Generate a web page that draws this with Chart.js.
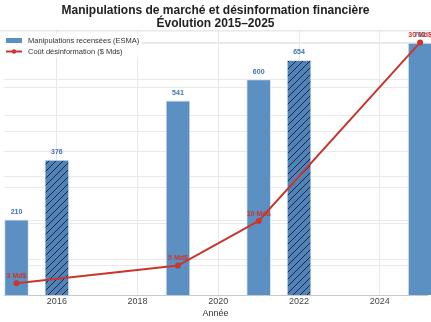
<!DOCTYPE html>
<html>
<head>
<meta charset="utf-8">
<script src="https://cdn.jsdelivr.net/npm/chart.js@4/dist/chart.umd.min.js"></script>
<style>
  html, body { margin: 0; padding: 0; background: #fff; }
  #wrap { width: 431px; height: 322px; }
</style>
</head>
<body>
<div id="wrap"><canvas id="chart" width="431" height="322"></canvas></div>
<script>
// data
const barYears = [2015, 2016, 2019, 2021, 2022, 2025];
const barValues = [210, 376, 541, 600, 654, 702];
const hatched = [false, true, false, false, true, false];
const costYears = [2015, 2019, 2021, 2025];
const costValues = [3, 5, 10, 30];
const xTicks = [2016, 2018, 2020, 2022, 2024];
const leftTicks = [0, 100, 200, 300, 400, 500, 600, 700];
const rightTicks = [5, 10, 15, 20, 25, 30];

const FONT = '"Liberation Sans", Arial, sans-serif';
const BLUE = '#5c8fc2';
const BLUE_DARK = '#4f83ba';
const BLUE_TXT = '#3d74b2';
const RED = '#c9372c';
const GRID = '#e9e9e9';

function hatchPattern() {
  const s = 7;
  const c = document.createElement('canvas');
  c.width = s; c.height = s;
  const g = c.getContext('2d');
  g.fillStyle = BLUE_DARK;
  g.fillRect(0, 0, s, s);
  g.strokeStyle = '#1c2636';
  g.lineWidth = 1;
  g.beginPath();
  g.moveTo(0, s); g.lineTo(s, 0);
  g.moveTo(-1, 1); g.lineTo(1, -1);
  g.moveTo(s - 1, s + 1); g.lineTo(s + 1, s - 1);
  g.stroke();
  return g.createPattern(c, 'repeat');
}
const hatch = hatchPattern();

const labelsPlugin = {
  id: 'labels',
  afterDatasetsDraw(chart) {
    const ctx = chart.ctx;
    ctx.save();
    ctx.font = 'bold 7px ' + FONT;
    ctx.textAlign = 'center';
    ctx.textBaseline = 'middle';
    ctx.fillStyle = BLUE_TXT;
    chart.getDatasetMeta(1).data.forEach((el, i) => {
      ctx.fillText(String(barValues[i]), el.x, el.y - 8);
    });
    ctx.fillStyle = RED;
    chart.getDatasetMeta(0).data.forEach((el, i) => {
      ctx.fillText(costValues[i] + ' Md$', el.x, el.y - 7);
    });
    ctx.restore();
  },
  afterDraw(chart) {
    const ctx = chart.ctx;
    const a = chart.chartArea;
    ctx.save();
    // top frame line
    ctx.strokeStyle = '#dddddd';
    ctx.lineWidth = 1;
    ctx.beginPath();
    ctx.moveTo(0, a.top + 0.5);
    ctx.lineTo(chart.width, a.top + 0.5);
    ctx.stroke();
    // legend
    const ds = chart.data.datasets;
    ctx.fillStyle = 'rgba(255,255,255,0.85)';
    ctx.fillRect(2, 34, 140, 23);
    ctx.fillStyle = BLUE;
    ctx.fillRect(6, 38, 16, 5);
    ctx.strokeStyle = RED;
    ctx.lineWidth = 2;
    ctx.beginPath();
    ctx.moveTo(6, 51.5);
    ctx.lineTo(22, 51.5);
    ctx.stroke();
    ctx.fillStyle = RED;
    ctx.beginPath();
    ctx.arc(14, 51.5, 2.2, 0, Math.PI * 2);
    ctx.fill();
    ctx.font = '7.5px ' + FONT;
    ctx.fillStyle = '#333';
    ctx.textBaseline = 'middle';
    ctx.fillText(ds[1].label, 28, 40.5);
    ctx.fillText(ds[0].label, 28, 51.5);
    ctx.restore();
  }
};

new Chart(document.getElementById('chart'), {
  data: {
    datasets: [
      {
        type: 'line',
        label: 'Coût désinformation ($ Mds)',
        data: costYears.map((x, i) => ({ x: x, y: costValues[i] })),
        yAxisID: 'y1',
        borderColor: RED,
        backgroundColor: RED,
        borderWidth: 2,
        pointRadius: 3,
        pointBackgroundColor: RED,
        pointBorderWidth: 0,
        tension: 0,
        order: 0
      },
      {
        type: 'bar',
        label: 'Manipulations recensées (ESMA)',
        data: barYears.map((x, i) => ({ x: x, y: barValues[i] })),
        yAxisID: 'y',
        backgroundColor: hatched.map(h => h ? hatch : BLUE),
        borderColor: '#dce7f2',
        borderWidth: 1,
        barThickness: 24,
        clip: false,
        order: 1
      }
    ]
  },
  options: {
    responsive: false,
    animation: false,
    layout: { padding: 0 },
    plugins: {
      legend: { display: false },
      tooltip: { enabled: false },
      title: {
        display: true,
        text: ['Manipulations de marché et désinformation financière', 'Évolution 2015–2025'],
        color: '#222',
        font: { family: FONT, size: 12, weight: 'bold', lineHeight: 1.1 },
        padding: { top: 4, bottom: 0 }
      }
    },
    scales: {
      x: {
        type: 'linear',
        offset: false,
        min: 2014.69,
        max: 2025.17,
        afterBuildTicks: s => { s.ticks = xTicks.map(v => ({ value: v })); },
        ticks: {
          callback: v => String(v),
          color: '#444',
          font: { family: FONT, size: 9 },
          padding: 1,
          maxRotation: 0
        },
        grid: { color: GRID, drawTicks: false, offset: false },
        border: { color: '#c8c8c8' },
        title: {
          display: true,
          text: 'Année',
          color: '#333',
          font: { family: FONT, size: 9 },
          padding: { top: 0, bottom: 3 }
        }
      },
      y: {
        position: 'left',
        min: 0,
        max: 737,
        afterBuildTicks: s => { s.ticks = leftTicks.map(v => ({ value: v })); },
        ticks: { display: false },
        grid: { color: GRID, drawTicks: false },
        border: { display: false }
      },
      y1: {
        position: 'right',
        min: 1.65,
        max: 31.35,
        afterBuildTicks: s => { s.ticks = rightTicks.map(v => ({ value: v })); },
        ticks: { display: false },
        grid: { color: GRID, drawTicks: false },
        border: { display: false }
      }
    }
  },
  plugins: [labelsPlugin]
});
</script>
</body>
</html>
